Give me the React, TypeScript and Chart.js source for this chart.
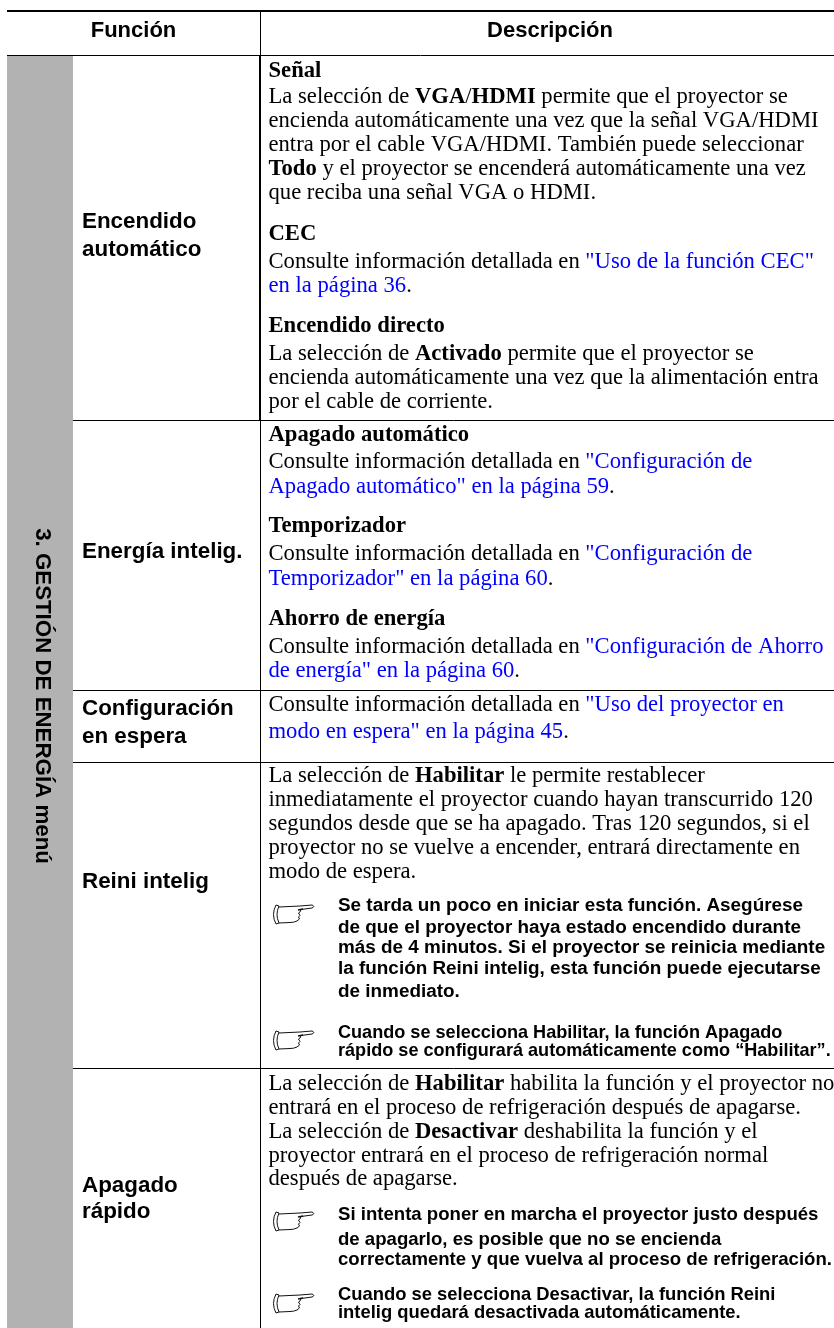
import React, { useEffect, useRef } from "react";
import { Chart, registerables } from "chart.js";

Chart.register(...registerables);

const PAGE_W = 834;
const PAGE_H = 1328;

// Text content. *...* is bold, [...] is a link.
const headers = ["Función", "Descripción"];
const sectionTitle = "3. GESTIÓN DE ENERGÍA menú";
const functionLabels = [
  "Encendido", "automático", "Energía intelig.", "Configuración", "en espera", "Reini intelig", "Apagado", "rápido",
];
const descriptionLines = [
  "*Señal*",
  "La selección de *VGA*/*HDMI* permite que el proyector se",
  "encienda automáticamente una vez que la señal VGA/HDMI",
  "entra por el cable VGA/HDMI. También puede seleccionar",
  "*Todo* y el proyector se encenderá automáticamente una vez",
  "que reciba una señal VGA o HDMI.",
  "*CEC*",
  "Consulte información detallada en [\"Uso de la función CEC\"]",
  "[en la página 36].",
  "*Encendido directo*",
  "La selección de *Activado* permite que el proyector se",
  "encienda automáticamente una vez que la alimentación entra",
  "por el cable de corriente.",
  "*Apagado automático*",
  "Consulte información detallada en [\"Configuración de]",
  "[Apagado automático\" en la página 59].",
  "*Temporizador*",
  "Consulte información detallada en [\"Configuración de]",
  "[Temporizador\" en la página 60].",
  "*Ahorro de energía*",
  "Consulte información detallada en [\"Configuración de Ahorro]",
  "[de energía\" en la página 60].",
  "Consulte información detallada en [\"Uso del proyector en]",
  "[modo en espera\" en la página 45].",
  "La selección de *Habilitar* le permite restablecer",
  "inmediatamente el proyector cuando hayan transcurrido 120",
  "segundos desde que se ha apagado. Tras 120 segundos, si el",
  "proyector no se vuelve a encender, entrará directamente en",
  "modo de espera.",
  "La selección de *Habilitar* habilita la función y el proyector no",
  "entrará en el proceso de refrigeración después de apagarse.",
  "La selección de *Desactivar* deshabilita la función y el",
  "proyector entrará en el proceso de refrigeración normal",
  "después de apagarse.",
];
const noteLines = [
  "Se tarda un poco en iniciar esta función. Asegúrese",
  "de que el proyector haya estado encendido durante",
  "más de 4 minutos. Si el proyector se reinicia mediante",
  "la función Reini intelig, esta función puede ejecutarse",
  "de inmediato.",
  "Cuando se selecciona Habilitar, la función Apagado",
  "rápido se configurará automáticamente como “Habilitar”.",
  "Si intenta poner en marcha el proyector justo después",
  "de apagarlo, es posible que no se encienda",
  "correctamente y que vuelva al proceso de refrigeración.",
  "Cuando se selecciona Desactivar, la función Reini",
  "intelig quedará desactivada automáticamente.",
];

// Layout, on the page scale.
const labelBaselines = [228, 256, 558, 715, 743, 888, 1192, 1218];
const descriptionBaselines = [
  77, 103, 127, 151, 175, 199, 240, 268, 292, 332, 360, 384, 408, 441, 468, 493, 532, 560, 585, 625, 653, 677,
  711, 738, 782, 806, 830, 854, 878, 1090, 1114, 1138, 1162, 1185,
];
const noteBaselines = [911, 933, 953, 974, 997, 1038, 1056, 1220, 1245, 1265, 1300, 1318];
const noteSizes = [18.9, 18.9, 18.9, 18.9, 18.9, 18.1, 18.1, 18.6, 18.6, 18.6, 18.4, 18.4];
const handTops = [903, 1029, 1210, 1292];
const ruleYs = [420, 690, 762, 1068];

const hLineSets = [
  { pts: [[7, 11], [834, 11]], w: 2 },
  { pts: [[7, 55.5], [834, 55.5]], w: 1 },
  ...ruleYs.map((y) => ({ pts: [[73, y + 0.5], [834, y + 0.5]], w: 1 })),
  { pts: [[260.5, 11], [260.5, 55]], w: 1 },
  { pts: [[260, 55], [260, 420]], w: 2 },
  { pts: [[260.5, 420], [260.5, 1328]], w: 1 },
];

const SERIF = '"Liberation Serif"';
const SANS = '"Liberation Sans"';

function drawRich(ctx: CanvasRenderingContext2D, line: string, x: number, y: number, size: number) {
  let bold = false;
  let link = false;
  let buf = "";
  let cx = x;
  const flush = () => {
    if (!buf) return;
    ctx.font = `${bold ? "bold " : ""}${size}px ${SERIF}`;
    ctx.fillStyle = link ? "#0000ff" : "#000000";
    ctx.fillText(buf, cx, y);
    cx += ctx.measureText(buf).width;
    buf = "";
  };
  for (const ch of line) {
    if (ch === "*") { flush(); bold = !bold; }
    else if (ch === "[") { flush(); link = true; }
    else if (ch === "]") { flush(); link = false; }
    else buf += ch;
  }
  flush();
}

function drawHand(ctx: CanvasRenderingContext2D, x: number, y: number) {
  ctx.save();
  ctx.translate(x, y);
  ctx.strokeStyle = "#111";
  ctx.lineWidth = 1;
  ctx.lineJoin = "round";
  ctx.beginPath();
  ctx.moveTo(7, 4);
  ctx.lineTo(28, 3);
  ctx.lineTo(40, 2);
  ctx.quadraticCurveTo(43.5, 3.5, 40, 5);
  ctx.lineTo(29, 6.5);
  ctx.lineTo(28, 9);
  ctx.lineTo(26.5, 10);
  ctx.lineTo(28, 12.5);
  ctx.lineTo(26.5, 14);
  ctx.lineTo(27.5, 16);
  ctx.lineTo(25, 18);
  ctx.quadraticCurveTo(22, 19.5, 18, 19.5);
  ctx.lineTo(7, 20);
  ctx.stroke();
  ctx.beginPath();
  ctx.moveTo(7, 3);
  ctx.quadraticCurveTo(3, 11.5, 7, 20);
  ctx.stroke();
  ctx.beginPath();
  ctx.moveTo(4, 2);
  ctx.quadraticCurveTo(-1, 11.5, 4, 21);
  ctx.lineTo(7, 20);
  ctx.moveTo(4, 2);
  ctx.lineTo(7, 3);
  ctx.stroke();
  ctx.lineWidth = 1.3;
  ctx.beginPath();
  ctx.moveTo(26, 7);
  ctx.lineTo(31, 6);
  ctx.stroke();
  ctx.restore();
}

const tablePlugin = {
  id: "tableText",
  afterDatasetsDraw(chart: any) {
    const { ctx, scales } = chart;
    const px = (v: number) => scales.x.getPixelForValue(v);
    const py = (v: number) => scales.y.getPixelForValue(v);
    ctx.save();
    ctx.textBaseline = "alphabetic";
    ctx.fillStyle = "#000";

    ctx.font = `bold 22px ${SANS}`;
    ctx.textAlign = "center";
    ctx.fillText(headers[0], px(133.5), py(37));
    ctx.fillText(headers[1], px(550), py(37));
    ctx.textAlign = "left";

    ctx.font = `bold 22.4px ${SANS}`;
    functionLabels.forEach((t, i) => ctx.fillText(t, px(82), py(labelBaselines[i])));

    descriptionLines.forEach((t, i) => drawRich(ctx, t, px(268.5), py(descriptionBaselines[i]), 22.65));

    ctx.fillStyle = "#000";
    noteLines.forEach((t, i) => {
      ctx.font = `bold ${noteSizes[i]}px ${SANS}`;
      ctx.fillText(t, px(338), py(noteBaselines[i]));
    });

    handTops.forEach((t) => drawHand(ctx, px(272), py(t)));

    ctx.save();
    ctx.translate(px(36), py(696));
    ctx.rotate(Math.PI / 2);
    ctx.textAlign = "center";
    ctx.fillStyle = "#000";
    ctx.font = `bold 22.3px ${SANS}`;
    ctx.fillText(sectionTitle, 0, 0);
    ctx.restore();
    ctx.restore();
  },
};

export default function App() {
  const ref = useRef<HTMLCanvasElement>(null);
  useEffect(() => {
    document.body.style.margin = "0";
    const chart = new Chart(ref.current!, {
      type: "scatter",
      data: {
        datasets: [
          {
            data: [{ x: 40, y: 56 }, { x: 40, y: PAGE_H }],
            showLine: true,
            borderColor: "#b2b2b2",
            borderWidth: 66,
            pointRadius: 0,
          },
          ...hLineSets.map((s) => ({
            data: s.pts.map(([x, y]) => ({ x, y })),
            showLine: true,
            borderColor: "#000",
            borderWidth: s.w,
            pointRadius: 0,
          })),
        ],
      },
      options: {
        animation: false,
        responsive: false,
        layout: { padding: 0 },
        plugins: { legend: { display: false }, tooltip: { enabled: false } },
        scales: {
          x: { type: "linear", display: false, min: 0, max: PAGE_W },
          y: { type: "linear", display: false, min: 0, max: PAGE_H, reverse: true },
        },
      },
      plugins: [tablePlugin],
    } as any);
    return () => chart.destroy();
  }, []);
  return <canvas ref={ref} width={PAGE_W} height={PAGE_H} style={{ display: "block" }} />;
}
